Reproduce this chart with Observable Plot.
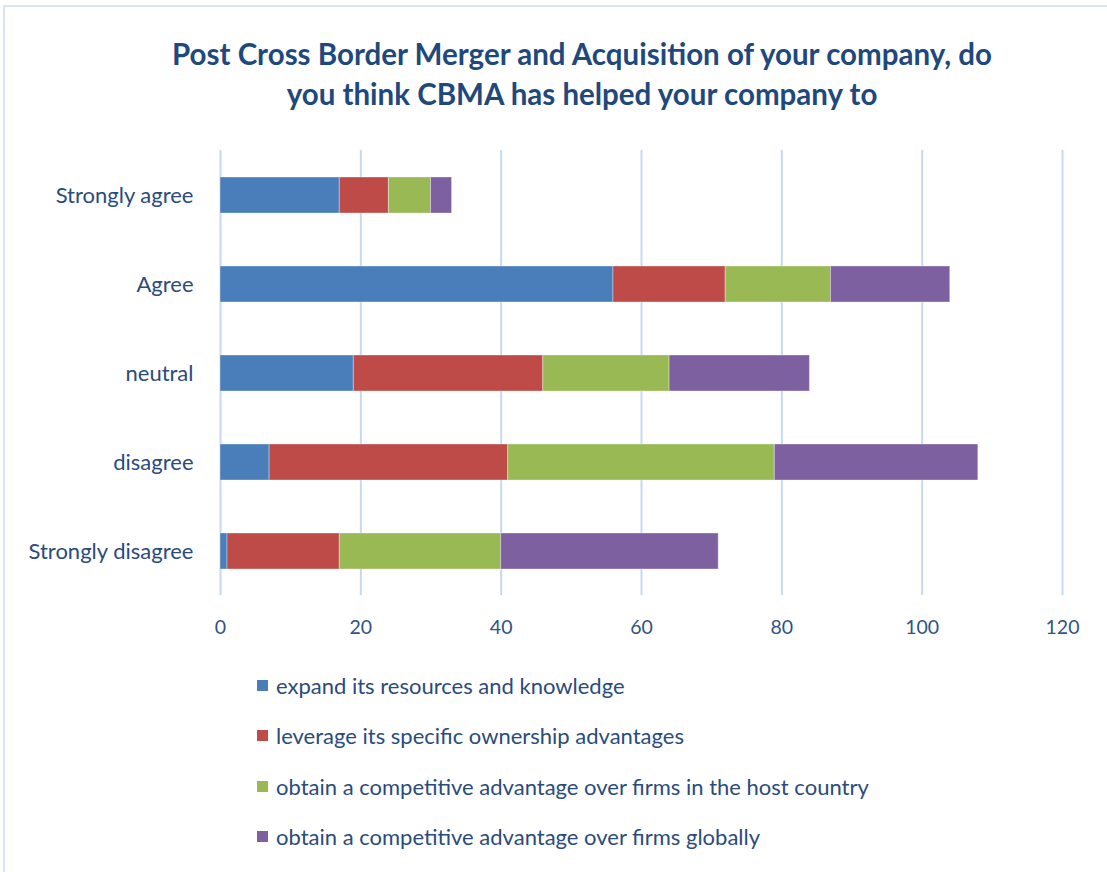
<!DOCTYPE html>
<html>
<head>
<meta charset="utf-8">
<script src="https://cdn.jsdelivr.net/npm/d3@7"></script>
<script src="https://cdn.jsdelivr.net/npm/@observablehq/plot@0.6"></script>
<style>
  html, body { margin: 0; padding: 0; background: #fff; }
  #wrap { position: relative; width: 1107px; height: 872px; overflow: hidden; font-family: Lato, "Open Sans", sans-serif; }
  #frame { position: absolute; left: 3px; top: 5px; width: 1200px; height: 1000px; border-top: 2px solid #dbe5f1; border-left: 2px solid #dbe5f1; box-sizing: border-box; }
  #title { position: absolute; left: 82px; width: 1000px; top: 34px; text-align: center; color: #1f497d; font-weight: bold; font-size: 29.5px; line-height: 40px; }
  #chart { position: absolute; left: 0; top: 140px; }
  #legend { position: absolute; left: 257px; top: 660px; color: #2a4b7c; font-size: 22px; }
  .item { height: 50.5px; display: flex; align-items: center; }
  .sw { width: 11px; height: 11px; margin-right: 8px; }
</style>
</head>
<body>
<div id="wrap">
  <div id="frame"></div>
  <div id="title">Post Cross Border Merger and Acquisition of your company, do<br>you think CBMA has helped your company to</div>
  <div id="chart"></div>
  <div id="legend"></div>
</div>
<script>
const categories = ["Strongly agree", "Agree", "neutral", "disagree", "Strongly disagree"];
const seriesNames = [
  "expand its resources and knowledge",
  "leverage its specific ownership advantages",
  "obtain a competitive advantage over firms in the host country",
  "obtain a competitive advantage over firms globally"
];
const expandValues   = [17, 56, 19, 7, 1];
const leverageValues = [7, 16, 27, 34, 16];
const hostValues     = [6, 15, 18, 38, 23];
const globalValues   = [3, 17, 20, 29, 31];
const xTicks = [0, 20, 40, 60, 80, 100, 120];
const colors = ["#4a7ebb", "#be4b48", "#98b954", "#7d60a0"];

const seriesValues = [expandValues, leverageValues, hostValues, globalValues];
const data = [];
seriesNames.forEach((s, i) => {
  categories.forEach((c, j) => {
    data.push({category: c, series: s, value: seriesValues[i][j]});
  });
});

const chart = Plot.plot({
  width: 1107,
  height: 500,
  marginTop: 10,
  marginBottom: 45,
  marginLeft: 220,
  marginRight: 45,
  style: {fontFamily: "Lato, 'Open Sans', sans-serif", color: "#2a4b7c", background: "transparent"},
  x: {domain: [0, 120], ticks: xTicks, tickSize: 0, label: null, grid: false},
  y: {domain: categories, paddingInner: 0.6, paddingOuter: 0.3, tickSize: 0, label: null},
  color: {domain: seriesNames, range: colors},
  marks: [
    Plot.ruleX(xTicks, {stroke: "#c6d9f0", strokeWidth: 2}),
    Plot.barX(data, Plot.stackX({
      x: "value", y: "category", fill: "series",
      order: seriesNames,
      stroke: "#ffffff", strokeOpacity: 0.35, strokeWidth: 1
    })),
    Plot.axisX({ticks: xTicks, tickSize: 0, tickPadding: 25, fontSize: 19.5, fill: "#2f5385"}),
    Plot.axisY({tickSize: 0, tickPadding: 27, fontSize: 22, fill: "#2a4b7c"})
  ]
});
document.getElementById("chart").appendChild(chart);

const legend = document.getElementById("legend");
seriesNames.forEach((s, i) => {
  const item = document.createElement("div");
  item.className = "item";
  const sw = document.createElement("div");
  sw.className = "sw";
  sw.style.background = colors[i];
  const t = document.createElement("span");
  t.textContent = s;
  item.appendChild(sw);
  item.appendChild(t);
  legend.appendChild(item);
});
</script>
</body>
</html>
